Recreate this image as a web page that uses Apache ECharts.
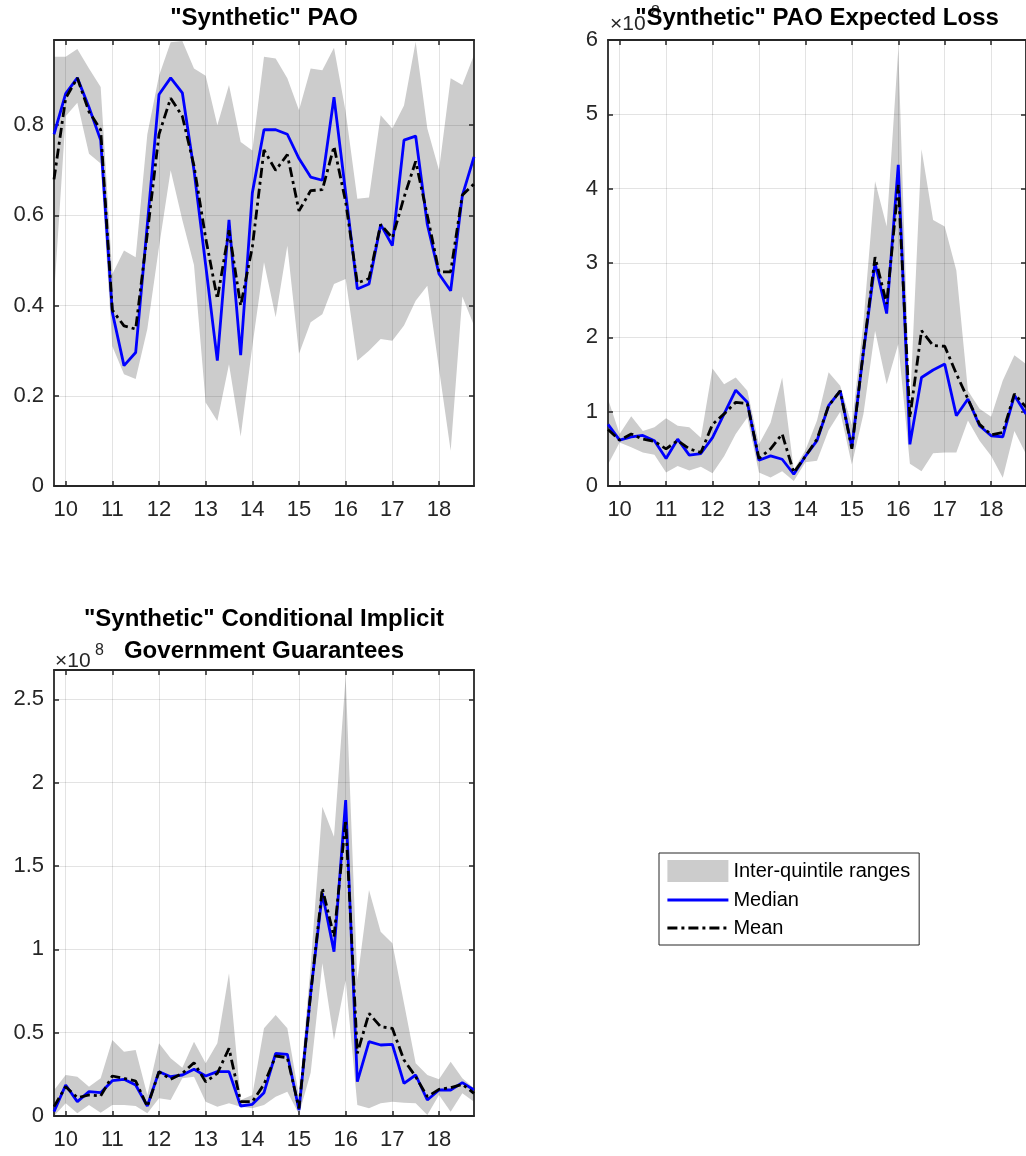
<!DOCTYPE html>
<html><head><meta charset="utf-8">
<script src="https://cdn.jsdelivr.net/npm/echarts@6/dist/echarts.min.js"></script>
<style>html,body{margin:0;padding:0;background:#fff}#c{width:1026px;height:1156px}</style>
</head><body><div id="c"></div>
<script>
// quarterly dates (year - 2000)
const quarters = [9.75,10,10.25,10.5,10.75,11,11.25,11.5,11.75,12,12.25,12.5,12.75,13,13.25,13.5,13.75,14,14.25,14.5,14.75,15,15.25,15.5,15.75,16,16.25,16.5,16.75,17,17.25,17.5,17.75,18,18.25,18.5,18.75];
const xTicks = [10,11,12,13,14,15,16,17,18];

// "Synthetic" PAO
const paoMedian = [0.78,0.87,0.905,0.84,0.767,0.385,0.267,0.296,0.58,0.868, 0.905,0.872,0.70,0.49,0.278,0.59,0.29,0.65,0.79,0.79, 0.78,0.726,0.685,0.678,0.862,0.65,0.437,0.448,0.58,0.533, 0.767,0.776,0.58,0.47,0.433,0.644,0.73];
const paoMean   = [0.68,0.86,0.905,0.83,0.79,0.39,0.355,0.348,0.56,0.78, 0.86,0.82,0.71,0.55,0.415,0.567,0.40,0.53,0.745,0.70, 0.735,0.61,0.655,0.657,0.753,0.63,0.45,0.46,0.58,0.55, 0.64,0.72,0.60,0.475,0.475,0.645,0.67];
const paoUpper  = [0.952,0.952,0.969,0.926,0.885,0.47,0.522,0.507,0.78,0.91, 0.984,0.987,0.926,0.91,0.80,0.889,0.763,0.744,0.952,0.948, 0.904,0.833,0.926,0.922,0.972,0.83,0.637,0.64,0.822,0.793, 0.844,0.985,0.793,0.70,0.904,0.889,0.956];
const paoLower  = [0.42,0.82,0.85,0.737,0.715,0.31,0.248,0.237,0.348,0.53, 0.70,0.59,0.49,0.185,0.144,0.27,0.11,0.31,0.496,0.374, 0.533,0.293,0.363,0.381,0.448,0.459,0.278,0.30,0.326,0.322, 0.356,0.411,0.444,0.26,0.078,0.42,0.356];

// "Synthetic" PAO Expected Loss (x 10^8)
const elMedian = [0.83,0.617,0.66,0.68,0.61,0.37,0.63,0.415,0.437,0.65, 0.97,1.29,1.126,0.347,0.406,0.36,0.158,0.40,0.61,1.08, 1.28,0.52,1.8,3.0,2.32,4.32,0.56,1.46,1.56,1.64, 0.946,1.17,0.81,0.676,0.66,1.22,0.97];
const elMean   = [0.76,0.617,0.70,0.63,0.60,0.50,0.61,0.50,0.45,0.83, 0.97,1.126,1.11,0.37,0.50,0.70,0.18,0.40,0.63,1.08, 1.28,0.50,1.82,3.08,2.45,4.05,0.92,2.09,1.89,1.88, 1.51,1.17,0.83,0.69,0.72,1.24,1.06];
const elUpper  = [1.17,0.70,0.94,0.74,0.79,0.91,0.81,0.79,0.65,1.58, 1.37,1.46,1.28,0.56,0.85,1.46,0.22,0.48,0.88,1.53, 1.35,0.82,2.2,4.10,3.49,5.88,1.05,4.53,3.58,3.49, 2.9,1.28,1.04,0.93,1.42,1.76,1.64];
const elLower  = [0.29,0.585,0.52,0.45,0.42,0.18,0.27,0.21,0.26,0.17, 0.40,0.70,0.92,0.18,0.113,0.20,0.068,0.32,0.34,0.75, 1.0,0.29,0.97,2.09,1.37,1.91,0.30,0.20,0.44,0.45, 0.45,0.88,0.61,0.405,0.11,0.74,0.43];

// "Synthetic" Conditional Implicit Government Guarantees (x 10^8)
const gMedian = [0.026,0.186,0.086,0.146,0.14,0.212,0.22,0.186,0.06,0.266, 0.236,0.246,0.28,0.24,0.266,0.266,0.06,0.07,0.14,0.376, 0.37,0.036,0.736,1.336,0.986,1.896,0.206,0.446,0.426,0.43, 0.196,0.246,0.096,0.156,0.156,0.2,0.156];
const gMean   = [0.056,0.176,0.11,0.126,0.12,0.24,0.226,0.21,0.056,0.266, 0.22,0.256,0.32,0.205,0.256,0.406,0.086,0.086,0.19,0.36, 0.35,0.046,0.736,1.366,1.076,1.776,0.376,0.616,0.536,0.526, 0.336,0.236,0.116,0.16,0.17,0.19,0.136];
const gUpper  = [0.155,0.246,0.236,0.176,0.226,0.456,0.386,0.396,0.126,0.436, 0.346,0.29,0.446,0.316,0.436,0.856,0.096,0.126,0.526,0.606, 0.526,0.12,0.9,1.856,1.676,2.636,0.816,1.356,1.106,1.036, 0.676,0.316,0.246,0.22,0.326,0.226,0.166];
const gLower  = [0.0,0.076,0.016,0.066,0.02,0.066,0.066,0.06,0.016,0.106, 0.096,0.226,0.236,0.086,0.056,0.076,0.056,0.046,0.066,0.116, 0.146,0.01,0.26,0.916,0.456,0.816,0.066,0.046,0.076,0.086, 0.08,0.076,0.006,0.126,0.026,0.136,0.086];

const panels = [
  {median: paoMedian, mean: paoMean, upper: paoUpper, lower: paoLower, yMax: 0.989, yInt: 0.2, showMax: false},
  {median: elMedian, mean: elMean, upper: elUpper, lower: elLower, yMax: 6, yInt: 1, showMax: true},
  {median: gMedian, mean: gMean, upper: gUpper, lower: gLower, yMax: 2.676, yInt: 0.5, showMax: false}
];

const FONT = '"Liberation Sans", Arial, Helvetica, sans-serif';
const AX = '#262626';
const GRIDC = 'rgba(38,38,38,0.13)';
const DASHDOT = [10, 4, 3, 4];
const grids = [
  {left: 54, top: 40, width: 420, height: 446},
  {left: 608, top: 40, width: 420, height: 446},
  {left: 54, top: 670, width: 420, height: 446}
];

const xAxis = [], yAxis = [], series = [];
panels.forEach((p, i) => {
  const line = {show: true, onZero: false, lineStyle: {color: AX, width: 1.8}};
  const tick = {show: true, inside: true, length: 5, lineStyle: {color: AX, width: 1.5}};
  xAxis.push({gridIndex: i, type: 'value', min: 9.75, max: 18.75, position: 'bottom', z: 2,
    axisLine: line, axisTick: Object.assign({customValues: xTicks}, tick),
    axisLabel: {customValues: xTicks, margin: 13, color: AX, fontSize: 22, fontFamily: FONT},
    splitLine: {show: false}});
  xAxis.push({gridIndex: i, type: 'value', min: 9.75, max: 18.75, position: 'top', z: 2,
    axisLine: line, axisTick: Object.assign({customValues: xTicks}, tick),
    axisLabel: {show: false}, splitLine: {show: false}});
  yAxis.push({gridIndex: i, type: 'value', min: 0, max: p.yMax, interval: p.yInt, position: 'left', z: 2,
    axisLine: line, axisTick: tick,
    axisLabel: {margin: 10, color: AX, fontSize: 22, fontFamily: FONT, showMaxLabel: p.showMax, showMinLabel: true},
    splitLine: {show: true, lineStyle: {color: GRIDC, width: 1}}});
  yAxis.push({gridIndex: i, type: 'value', min: 0, max: p.yMax, interval: p.yInt, position: 'right', z: 2,
    axisLine: line, axisTick: tick, axisLabel: {show: false}, splitLine: {show: false}});

  const bandData = quarters.map((x, j) => [x, p.lower[j], p.upper[j]]);
  series.push({
    type: 'custom', name: 'Inter-quintile ranges', xAxisIndex: 2 * i, yAxisIndex: 2 * i, z: 1, silent: true,
    itemStyle: {color: '#cccccc'},
    encode: {x: 0, y: [1, 2]},
    data: bandData,
    renderItem: function (params, api) {
      if (params.dataIndexInside !== 0) return null;
      const n = params.dataInsideLength;
      const top = [], bot = [];
      for (let j = 0; j < n; j++) {
        top.push(api.coord([api.value(0, j), api.value(2, j)]));
        bot.push(api.coord([api.value(0, j), api.value(1, j)]));
      }
      return {type: 'polygon', shape: {points: top.concat(bot.reverse())}, style: {fill: '#cccccc'}};
    }
  });
  series.push({
    type: 'line', name: 'Median', xAxisIndex: 2 * i, yAxisIndex: 2 * i, z: 3,
    symbol: 'none', showSymbol: false,
    lineStyle: {color: '#0000ff', width: 2.8}, itemStyle: {color: '#0000ff'},
    data: quarters.map((x, j) => [x, p.median[j]]),
    markLine: {silent: true, symbol: 'none', z: 2, animation: false, label: {show: false},
      lineStyle: {color: GRIDC, width: 1, type: 'solid'},
      emphasis: {disabled: true},
      data: xTicks.map(v => ({xAxis: v}))}
  });
  series.push({
    type: 'line', name: 'Mean', xAxisIndex: 2 * i, yAxisIndex: 2 * i, z: 4,
    symbol: 'none', showSymbol: false,
    lineStyle: {color: '#000000', width: 2.8, type: DASHDOT}, itemStyle: {color: '#000000'},
    data: quarters.map((x, j) => [x, p.mean[j]])
  });
});

const titleFont = 'bold 24px ' + FONT;
const hiddenSym = {color: 'rgba(0,0,0,0)', opacity: 0, borderWidth: 0};
const option = {
  animation: false,
  backgroundColor: '#fff',
  grid: grids,
  xAxis: xAxis,
  yAxis: yAxis,
  series: series,
  legend: {
    left: 659, top: 853, orient: 'vertical', itemWidth: 61, itemHeight: 22, itemGap: 8,
    padding: [7, 9, 7, 7], backgroundColor: '#fff', borderColor: AX, borderWidth: 1,
    selectedMode: false,
    textStyle: {fontSize: 20, color: '#000', fontFamily: FONT},
    data: [
      {name: 'Inter-quintile ranges', icon: 'rect', itemStyle: {color: '#cccccc'}},
      {name: 'Median', itemStyle: hiddenSym, lineStyle: {color: '#0000ff', width: 2.8, type: 'solid'}},
      {name: 'Mean', itemStyle: hiddenSym, lineStyle: {color: '#000000', width: 2.8, type: DASHDOT}}
    ]
  },
  graphic: [
    {type: 'text', x: 651, y: 13, z: 10, style: {text: '8', font: '16px ' + FONT, fill: AX, textAlign: 'left', textVerticalAlign: 'middle'}},
    {type: 'text', x: 610, y: 24, z: 10, style: {text: '×10', font: '21px ' + FONT, fill: AX, textAlign: 'left', textVerticalAlign: 'middle'}},
    {type: 'text', x: 264, y: 18, z: 20, style: {text: '"Synthetic" PAO', font: titleFont, fill: '#000', textAlign: 'center', textVerticalAlign: 'middle'}},
    {type: 'text', x: 817, y: 18, z: 20, style: {text: '"Synthetic" PAO Expected Loss', font: titleFont, fill: '#000', textAlign: 'center', textVerticalAlign: 'middle'}},
    {type: 'text', x: 264, y: 619, z: 20, style: {text: '"Synthetic" Conditional Implicit', font: titleFont, fill: '#000', textAlign: 'center', textVerticalAlign: 'middle'}},
    {type: 'text', x: 264, y: 651, z: 20, style: {text: 'Government Guarantees', font: titleFont, fill: '#000', textAlign: 'center', textVerticalAlign: 'middle'}},
    {type: 'text', x: 55, y: 661, z: 10, style: {text: '×10', font: '21px ' + FONT, fill: AX, textAlign: 'left', textVerticalAlign: 'middle'}},
    {type: 'text', x: 95, y: 651, z: 10, style: {text: '8', font: '16px ' + FONT, fill: AX, textAlign: 'left', textVerticalAlign: 'middle'}}
  ]
};
const chart = echarts.init(document.getElementById('c'), null, {renderer: 'canvas'});
chart.setOption(option);
</script>
</body></html>
